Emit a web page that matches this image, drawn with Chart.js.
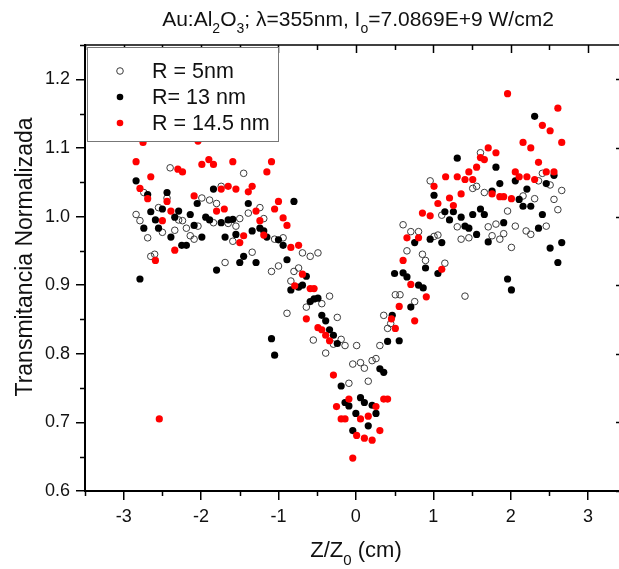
<!DOCTYPE html>
<html>
<head>
<meta charset="utf-8">
<script src="https://cdn.jsdelivr.net/npm/chart.js@4.4.1/dist/chart.umd.min.js"></script>
<style>
  body { margin: 0; background: #fff; }
  canvas { display: block; }
</style>
</head>
<body>
<canvas id="zscan" width="619" height="569"></canvas>
<script>
// R = 5 nm (open circles)
const zR5 = [-2.84,-2.79,-2.74,-2.69,-2.65,-2.60,-2.55,-2.50,-2.44,-2.40,-2.34,-2.29,-2.24,-2.19,-2.14,-2.09,-2.04,-1.99,-1.89,-1.84,
  -1.80,-1.74,-1.69,-1.65,-1.59,-1.55,-1.50,-1.45,-1.39,-1.34,-1.24,-1.19,-1.09,-1.05,-1.00,-0.94,-0.89,-0.84,-0.80,-0.74,
  -0.69,-0.64,-0.59,-0.55,-0.49,-0.44,-0.39,-0.34,-0.29,-0.24,-0.19,-0.14,-0.09,-0.04,0.01,0.06,0.11,0.16,0.21,0.26,
  0.31,0.36,0.41,0.45,0.51,0.57,0.61,0.66,0.71,0.76,0.81,0.86,0.90,0.96,1.01,1.06,1.11,1.15,1.31,1.36,
  1.41,1.46,1.51,1.56,1.61,1.66,1.71,1.76,1.81,1.86,1.91,1.96,2.01,2.06,2.16,2.20,2.26,2.31,2.36,2.41,
  2.46,2.51,2.56,2.61,2.66];
const trR5 = [1.003,0.994,1.035,0.969,0.942,0.945,1.013,0.977,1.027,1.071,0.980,0.995,0.994,0.983,0.972,0.967,0.986,1.027,1.024,0.991,
  1.019,1.044,0.933,0.990,0.964,0.986,0.997,1.063,1.005,0.948,1.013,0.997,0.920,0.967,0.928,0.969,0.859,0.906,0.920,0.925,
  0.947,0.868,0.942,0.820,0.947,0.873,0.801,0.884,0.814,0.853,0.821,0.812,0.757,0.785,0.812,0.787,0.779,0.760,0.790,0.793,
  0.812,0.856,0.837,0.844,0.886,0.886,0.988,0.950,0.978,0.876,0.978,0.945,0.936,1.052,0.971,0.973,1.002,0.932,0.985,0.967,
  0.884,0.969,1.041,1.044,1.093,1.035,0.985,0.972,0.989,0.967,0.975,1.008,0.955,0.986,1.030,0.979,0.974,1.026,1.052,1.063,
  0.986,1.046,1.025,1.010,1.038];

// R = 13 nm (black)
const zR13 = [-2.84,-2.79,-2.74,-2.69,-2.65,-2.59,-2.55,-2.50,-2.44,-2.39,-2.34,-2.29,-2.25,-2.19,-2.14,-2.09,-2.05,-1.99,-1.94,-1.89,
  -1.84,-1.80,-1.74,-1.69,-1.65,-1.59,-1.55,-1.50,-1.45,-1.39,-1.34,-1.29,-1.24,-1.19,-1.15,-1.09,-1.05,-1.00,-0.94,-0.89,
  -0.84,-0.80,-0.74,-0.69,-0.64,-0.59,-0.54,-0.49,-0.44,-0.39,-0.34,-0.29,-0.24,-0.19,-0.14,-0.09,-0.04,0.00,0.06,0.11,
  0.16,0.21,0.26,0.31,0.36,0.41,0.47,0.50,0.56,0.61,0.66,0.71,0.76,0.81,0.87,0.90,0.96,1.01,1.06,1.11,
  1.15,1.21,1.26,1.31,1.36,1.41,1.46,1.51,1.56,1.61,1.66,1.71,1.76,1.81,1.86,1.91,1.96,2.01,2.06,2.11,
  2.16,2.21,2.26,2.31,2.36,2.41,2.46,2.51,2.56,2.61,2.66];
const trR13 = [1.052,0.909,0.983,1.032,1.007,0.995,0.983,1.011,1.035,0.970,0.999,1.008,0.958,0.958,1.003,0.987,1.019,0.970,0.999,0.995,
  1.040,0.922,0.991,0.970,0.995,0.996,0.974,0.933,0.942,1.019,0.979,0.933,0.983,0.979,0.970,0.822,0.798,0.966,0.958,0.937,
  0.893,1.022,0.897,0.900,0.913,0.876,0.880,0.881,0.856,0.848,0.835,0.827,0.815,0.753,0.729,0.724,0.688,0.713,0.736,0.729,
  0.695,0.725,0.713,0.778,0.773,0.818,0.856,0.917,0.819,0.918,0.912,0.868,0.962,0.900,0.896,0.925,0.967,1.031,0.917,0.962,
  1.007,0.995,1.007,1.085,0.999,0.986,0.983,1.003,0.974,1.011,1.003,0.963,1.037,1.072,1.048,0.991,0.909,0.893,1.052,1.025,
  1.015,1.040,1.015,1.146,0.983,1.003,1.048,0.954,1.060,0.933,0.962];

// R = 14.5 nm (red)
const zR145 = [-2.84,-2.79,-2.75,-2.69,-2.65,-2.59,-2.54,-2.50,-2.44,-2.39,-2.34,-2.30,-2.24,-2.09,-2.04,-1.99,-1.90,-1.84,-1.80,-1.74,
  -1.70,-1.65,-1.59,-1.55,-1.50,-1.45,-1.39,-1.34,-1.29,-1.24,-1.19,-1.15,-1.09,-1.05,-1.00,-0.94,-0.89,-0.84,-0.79,-0.74,
  -0.69,-0.64,-0.59,-0.54,-0.49,-0.44,-0.39,-0.34,-0.29,-0.25,-0.19,-0.14,-0.09,-0.04,0.01,0.06,0.11,0.16,0.21,0.26,
  0.31,0.36,0.41,0.46,0.51,0.56,0.61,0.66,0.71,0.76,0.81,0.86,0.91,0.96,1.01,1.06,1.11,1.16,1.21,1.26,
  1.31,1.36,1.41,1.46,1.51,1.56,1.61,1.66,1.71,1.76,1.81,1.86,1.91,1.96,2.01,2.06,2.11,2.16,2.21,2.26,
  2.31,2.36,2.41,2.46,2.51,2.56,2.61,2.66];
const trR145 = [1.080,1.041,1.108,1.026,1.058,0.936,0.705,0.994,1.022,1.008,0.951,1.069,1.065,1.030,1.110,1.076,1.083,1.076,1.008,1.040,
  1.011,1.044,1.080,1.040,0.962,0.972,1.036,1.044,1.008,0.994,0.973,1.065,1.080,1.011,1.022,0.998,0.987,0.955,0.899,0.958,
  0.916,0.851,0.895,0.895,0.838,0.835,0.827,0.819,0.769,0.723,0.705,0.705,0.734,0.648,0.681,0.705,0.677,0.709,0.674,0.723,
  0.688,0.734,0.734,0.851,0.837,0.869,0.936,0.969,0.901,0.848,0.969,1.005,0.883,1.001,1.044,1.019,0.923,1.058,1.027,1.016,
  1.058,1.033,1.054,1.065,1.054,1.072,1.086,1.083,1.100,1.033,1.093,1.029,1.029,1.179,1.026,1.065,1.058,1.108,1.058,1.100,
  1.054,1.079,1.133,1.065,1.125,1.065,1.158,1.108];

const seriesLabels = ['R = 5nm', 'R= 13 nm', 'R = 14.5 nm'];
const xTicks = [-3, -2, -1, 0, 1, 2, 3];
const yTicks = [0.6, 0.7, 0.8, 0.9, 1.0, 1.1, 1.2];

const FONT = "'Liberation Sans', Arial, sans-serif";

function pts(xs, ys) {
  return xs.map(function(x, i) { return {x: x, y: ys[i]}; });
}

// text with subscripts: parts = [[text, isSub], ...]
function richText(ctx, parts, cx, cy, size, rot) {
  const subSize = Math.round(size * 0.68);
  let w = 0;
  parts.forEach(function(p) {
    ctx.font = (p[1] ? subSize : size) + 'px ' + FONT;
    w += ctx.measureText(p[0]).width;
  });
  ctx.save();
  ctx.translate(cx, cy);
  if (rot) ctx.rotate(rot);
  ctx.fillStyle = '#111';
  ctx.textBaseline = 'alphabetic';
  ctx.textAlign = 'left';
  let x = -w / 2;
  parts.forEach(function(p) {
    ctx.font = (p[1] ? subSize : size) + 'px ' + FONT;
    ctx.fillText(p[0], x, p[1] ? size * 0.72 : size * 0.36);
    x += ctx.measureText(p[0]).width;
  });
  ctx.restore();
}

const frame = {
  id: 'frame',
  afterDraw(chart) {
    const ctx = chart.ctx;
    const a = chart.chartArea;
    const xs = chart.scales.x, ys = chart.scales.y;
    ctx.save();
    ctx.strokeStyle = '#000';
    ctx.lineWidth = 1.5;
    // top axis line (right one sits past the picture edge)
    ctx.beginPath();
    ctx.moveTo(a.left, a.top); ctx.lineTo(a.right, a.top);
    ctx.stroke();
    ctx.beginPath();
    for (let v = -3.5; v <= 3.4; v += 0.5) {
      const px = Math.round(xs.getPixelForValue(v)) + 0.5;
      const major = Math.abs(v - Math.round(v)) < 1e-6;
      // bottom minor ticks (major drawn by Chart.js)
      if (!major) { ctx.moveTo(px, a.bottom); ctx.lineTo(px, a.bottom + 5); }
      // top ticks inward
      ctx.moveTo(px, a.top); ctx.lineTo(px, a.top + (major ? 8 : 5));
    }
    for (let v = 0.6; v <= 1.251; v += 0.05) {
      const py = Math.round(ys.getPixelForValue(v)) + 0.5;
      const major = Math.abs(v * 10 - Math.round(v * 10)) < 1e-6;
      if (!major) { ctx.moveTo(a.left, py); ctx.lineTo(a.left - 5, py); }
      if (major) { ctx.moveTo(a.right, py); ctx.lineTo(a.right - 3, py); }
    }
    ctx.stroke();

    // legend box
    const lx = 87, ly = 47, lw = 191, lh = 94;
    ctx.fillStyle = '#fff';
    ctx.fillRect(lx, ly, lw, lh);
    ctx.strokeStyle = '#777';
    ctx.lineWidth = 1;
    ctx.strokeRect(lx + 0.5, ly + 0.5, lw, lh);
    const rows = [71, 97, 123];
    chart.data.datasets.forEach(function(ds, i) {
      ctx.beginPath();
      ctx.arc(120, rows[i], 3.3, 0, Math.PI * 2);
      if (ds.pointBorderWidth > 0) {
        ctx.strokeStyle = ds.borderColor;
        ctx.lineWidth = 1;
        ctx.stroke();
      } else {
        ctx.fillStyle = ds.backgroundColor;
        ctx.fill();
      }
      ctx.fillStyle = '#111';
      ctx.font = '21.5px ' + FONT;
      ctx.textBaseline = 'middle';
      ctx.textAlign = 'left';
      ctx.fillText(ds.label, 152, rows[i] + 1);
    });
    ctx.restore();

    // titles
    richText(ctx, [['Au:Al', 0], ['2', 1], ['O', 0], ['3', 1], ['; \u03bb=355nm, I', 0], ['o', 1], ['=7.0869E+9 W/cm2', 0]], 358, 18, 21, 0);
    richText(ctx, [['Z/Z', 0], ['0', 1], [' (cm)', 0]], 356, 549, 22, 0);
    richText(ctx, [['Transmitancia Normalizada', 0]], 24, 257, 23, -Math.PI / 2);
  }
};

const ctx = document.getElementById('zscan').getContext('2d');
new Chart(ctx, {
  type: 'scatter',
  data: {
    datasets: [
      {
        label: seriesLabels[0],
        data: pts(zR5, trR5),
        backgroundColor: 'rgba(255,255,255,0)',
        borderColor: '#3c3c3c',
        pointBorderWidth: 1,
        pointRadius: 3.3,
        order: 3
      },
      {
        label: seriesLabels[1],
        data: pts(zR13, trR13),
        backgroundColor: '#000',
        borderColor: '#000',
        pointBorderWidth: 0,
        pointRadius: 3.6,
        order: 2
      },
      {
        label: seriesLabels[2],
        data: pts(zR145, trR145),
        backgroundColor: '#ff0000',
        borderColor: '#ff0000',
        pointBorderWidth: 0,
        pointRadius: 3.6,
        order: 1
      }
    ]
  },
  options: {
    responsive: false,
    animation: false,
    devicePixelRatio: 1,
    layout: { autoPadding: false, padding: { top: 45, right: 0, left: 0, bottom: 0 } },
    plugins: { legend: { display: false }, tooltip: { enabled: false } },
    scales: {
      x: {
        type: 'linear',
        min: -3.5,
        max: 3.4,
        afterFit: function(s) { s.height = 78; },
        afterBuildTicks: function(s) { s.ticks = xTicks.map(function(v) { return {value: v}; }); },
        ticks: {
          font: { family: FONT, size: 18 },
          color: '#111',
          padding: 6,
          callback: function(v) { return String(v); }
        },
        grid: { drawOnChartArea: false, drawTicks: true, tickLength: 9, color: '#000', lineWidth: 1.5 },
        border: { display: true, color: '#000', width: 2 }
      },
      y: {
        type: 'linear',
        min: 0.6,
        max: 1.25,
        afterFit: function(s) { s.width = 85; },
        afterBuildTicks: function(s) { s.ticks = yTicks.map(function(v) { return {value: v}; }); },
        ticks: {
          font: { family: FONT, size: 18 },
          color: '#111',
          padding: 6,
          callback: function(v) { return v.toFixed(1); }
        },
        grid: { drawOnChartArea: false, drawTicks: true, tickLength: 9, color: '#000', lineWidth: 1.5 },
        border: { display: true, color: '#000', width: 2 }
      }
    }
  },
  plugins: [frame]
});
</script>
</body>
</html>
